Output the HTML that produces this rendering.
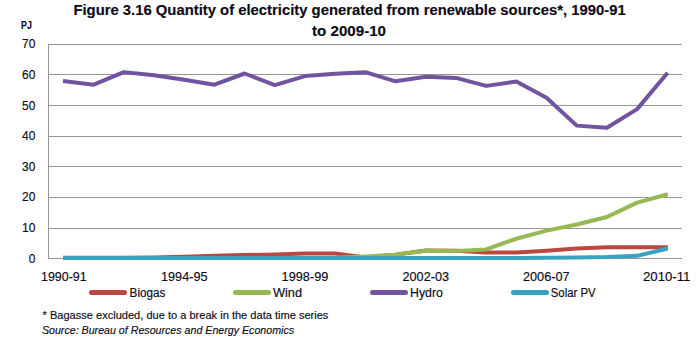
<!DOCTYPE html>
<html><head><meta charset="utf-8"><style>
html,body{margin:0;padding:0;background:#fff;width:700px;height:340px;overflow:hidden}
svg{display:block;font-family:"Liberation Sans",sans-serif}
</style></head><body>
<svg width="700" height="340" viewBox="0 0 700 340">
<rect x="48" y="44" width="634" height="1" fill="#979797"/>
<rect x="48" y="74" width="634" height="1" fill="#979797"/>
<rect x="48" y="105" width="634" height="1" fill="#979797"/>
<rect x="48" y="136" width="634" height="1" fill="#979797"/>
<rect x="48" y="166" width="634" height="1" fill="#979797"/>
<rect x="48" y="197" width="634" height="1" fill="#979797"/>
<rect x="48" y="228" width="634" height="1" fill="#979797"/>
<rect x="48" y="258" width="634" height="1" fill="#979797"/>
<rect x="48" y="44" width="1" height="215" fill="#979797"/>
<path d="M63.00,257.69 L93.69,257.69 L123.88,257.69 L154.07,257.54 L184.26,256.78 L214.45,255.86 L244.64,255.10 L274.83,254.48 L305.02,253.57 L335.21,253.57 L365.40,257.54 L395.59,254.64 L425.78,250.51 L455.97,250.66 L486.16,252.50 L516.35,252.50 L546.54,250.82 L576.73,248.52 L606.92,247.15 L637.11,247.30 L667.80,247.14" fill="none" stroke="#BC4742" stroke-width="4.0" stroke-linejoin="round" stroke-linecap="butt"/>
<path d="M63.00,258.00 L93.69,258.00 L123.88,258.00 L154.07,258.00 L184.26,258.00 L214.45,258.00 L244.64,258.00 L274.83,258.00 L305.02,258.00 L335.21,257.69 L365.40,256.47 L395.59,254.64 L425.78,250.82 L455.97,250.97 L486.16,249.44 L516.35,238.74 L546.54,230.64 L576.73,224.52 L606.92,217.03 L637.11,202.67 L667.79,194.28" fill="none" stroke="#97B853" stroke-width="4.0" stroke-linejoin="round" stroke-linecap="butt"/>
<path d="M63.00,80.93 L93.69,84.66 L123.88,72.13 L154.07,75.18 L184.26,79.77 L214.45,84.66 L244.64,73.50 L274.83,85.12 L305.02,76.10 L335.21,73.65 L365.40,72.13 L395.59,81.30 L425.78,76.71 L455.97,77.93 L486.16,85.88 L516.35,81.60 L546.54,97.81 L576.73,125.63 L606.92,127.77 L637.11,109.12 L667.63,72.66" fill="none" stroke="#7154A0" stroke-width="4.0" stroke-linejoin="round" stroke-linecap="butt"/>
<path d="M63.00,258.00 L93.69,258.00 L123.88,258.00 L154.07,258.00 L184.26,258.00 L214.45,258.00 L244.64,258.00 L274.83,258.00 L305.02,258.00 L335.21,258.00 L365.40,258.00 L395.59,258.00 L425.78,258.00 L455.97,258.00 L486.16,258.00 L516.35,258.00 L546.54,257.85 L576.73,257.54 L606.92,257.08 L637.11,255.86 L667.79,248.56" fill="none" stroke="#38A3C0" stroke-width="4.0" stroke-linejoin="round" stroke-linecap="butt"/>
<line x1="91.5" y1="292.5" x2="124.5" y2="292.5" stroke="#BC4742" stroke-width="5" stroke-linecap="round"/>
<line x1="235.5" y1="292.5" x2="268.5" y2="292.5" stroke="#97B853" stroke-width="5" stroke-linecap="round"/>
<line x1="372.5" y1="292.5" x2="405.5" y2="292.5" stroke="#7154A0" stroke-width="5" stroke-linecap="round"/>
<line x1="513.5" y1="292.5" x2="546.5" y2="292.5" stroke="#38A3C0" stroke-width="5" stroke-linecap="round"/>
<text x="73.4" y="14.6" font-size="14.5" font-weight="bold" font-style="normal" textLength="552.3" lengthAdjust="spacingAndGlyphs" fill="#0c0a16" stroke="#0c0a16" stroke-width="0.15">Figure 3.16 Quantity of electricity generated from renewable sources*, 1990-91</text>
<text x="312.0" y="35.6" font-size="14.5" font-weight="bold" font-style="normal" textLength="74.0" lengthAdjust="spacingAndGlyphs" fill="#0c0a16" stroke="#0c0a16" stroke-width="0.15">to 2009-10</text>
<text x="21.0" y="28.8" font-size="11.5" font-weight="bold" font-style="normal" textLength="10.8" lengthAdjust="spacingAndGlyphs" fill="#0c0a16" stroke="#0c0a16" stroke-width="0.15">PJ</text>
<text x="22.0" y="48.4" font-size="12.0" font-weight="normal" font-style="normal" textLength="13.3" lengthAdjust="spacingAndGlyphs" fill="#0c0a16" stroke="#0c0a16" stroke-width="0.15">70</text>
<text x="22.0" y="79.0" font-size="12.0" font-weight="normal" font-style="normal" textLength="13.3" lengthAdjust="spacingAndGlyphs" fill="#0c0a16" stroke="#0c0a16" stroke-width="0.15">60</text>
<text x="22.0" y="109.5" font-size="12.0" font-weight="normal" font-style="normal" textLength="13.3" lengthAdjust="spacingAndGlyphs" fill="#0c0a16" stroke="#0c0a16" stroke-width="0.15">50</text>
<text x="22.0" y="140.1" font-size="12.0" font-weight="normal" font-style="normal" textLength="13.3" lengthAdjust="spacingAndGlyphs" fill="#0c0a16" stroke="#0c0a16" stroke-width="0.15">40</text>
<text x="22.0" y="170.7" font-size="12.0" font-weight="normal" font-style="normal" textLength="13.3" lengthAdjust="spacingAndGlyphs" fill="#0c0a16" stroke="#0c0a16" stroke-width="0.15">30</text>
<text x="22.0" y="201.3" font-size="12.0" font-weight="normal" font-style="normal" textLength="13.3" lengthAdjust="spacingAndGlyphs" fill="#0c0a16" stroke="#0c0a16" stroke-width="0.15">20</text>
<text x="22.0" y="231.8" font-size="12.0" font-weight="normal" font-style="normal" textLength="13.3" lengthAdjust="spacingAndGlyphs" fill="#0c0a16" stroke="#0c0a16" stroke-width="0.15">10</text>
<text x="28.7" y="263.2" font-size="12.0" font-weight="normal" font-style="normal" textLength="6.6" lengthAdjust="spacingAndGlyphs" fill="#0c0a16" stroke="#0c0a16" stroke-width="0.15">0</text>
<text x="41.0" y="280.9" font-size="12.7" font-weight="normal" font-style="normal" textLength="45.7" lengthAdjust="spacingAndGlyphs" fill="#0c0a16" stroke="#0c0a16" stroke-width="0.15">1990-91</text>
<text x="161.0" y="280.9" font-size="12.7" font-weight="normal" font-style="normal" textLength="46.5" lengthAdjust="spacingAndGlyphs" fill="#0c0a16" stroke="#0c0a16" stroke-width="0.15">1994-95</text>
<text x="281.6" y="280.9" font-size="12.7" font-weight="normal" font-style="normal" textLength="46.8" lengthAdjust="spacingAndGlyphs" fill="#0c0a16" stroke="#0c0a16" stroke-width="0.15">1998-99</text>
<text x="402.5" y="280.9" font-size="12.7" font-weight="normal" font-style="normal" textLength="46.5" lengthAdjust="spacingAndGlyphs" fill="#0c0a16" stroke="#0c0a16" stroke-width="0.15">2002-03</text>
<text x="523.0" y="280.9" font-size="12.7" font-weight="normal" font-style="normal" textLength="46.5" lengthAdjust="spacingAndGlyphs" fill="#0c0a16" stroke="#0c0a16" stroke-width="0.15">2006-07</text>
<text x="643.0" y="280.9" font-size="12.7" font-weight="normal" font-style="normal" textLength="47.4" lengthAdjust="spacingAndGlyphs" fill="#0c0a16" stroke="#0c0a16" stroke-width="0.15">2010-11</text>
<text x="129.6" y="296.7" font-size="12.0" font-weight="normal" font-style="normal" textLength="35.8" lengthAdjust="spacingAndGlyphs" fill="#0c0a16" stroke="#0c0a16" stroke-width="0.15">Biogas</text>
<text x="272.9" y="296.7" font-size="12.0" font-weight="normal" font-style="normal" textLength="29.2" lengthAdjust="spacingAndGlyphs" fill="#0c0a16" stroke="#0c0a16" stroke-width="0.15">Wind</text>
<text x="410.0" y="296.7" font-size="12.0" font-weight="normal" font-style="normal" textLength="32.9" lengthAdjust="spacingAndGlyphs" fill="#0c0a16" stroke="#0c0a16" stroke-width="0.15">Hydro</text>
<text x="550.7" y="296.7" font-size="12.0" font-weight="normal" font-style="normal" textLength="45.0" lengthAdjust="spacingAndGlyphs" fill="#0c0a16" stroke="#0c0a16" stroke-width="0.15">Solar PV</text>
<text x="42.5" y="319.0" font-size="11.0" font-weight="normal" font-style="normal" textLength="285.9" lengthAdjust="spacingAndGlyphs" fill="#0c0a16" stroke="#0c0a16" stroke-width="0.15">* Bagasse excluded, due to a break in the data time series</text>
<text x="41.9" y="333.8" font-size="11.0" font-weight="normal" font-style="italic" textLength="252.2" lengthAdjust="spacingAndGlyphs" fill="#0c0a16" stroke="#0c0a16" stroke-width="0.15">Source: Bureau of Resources and Energy Economics</text>
</svg>
</body></html>
